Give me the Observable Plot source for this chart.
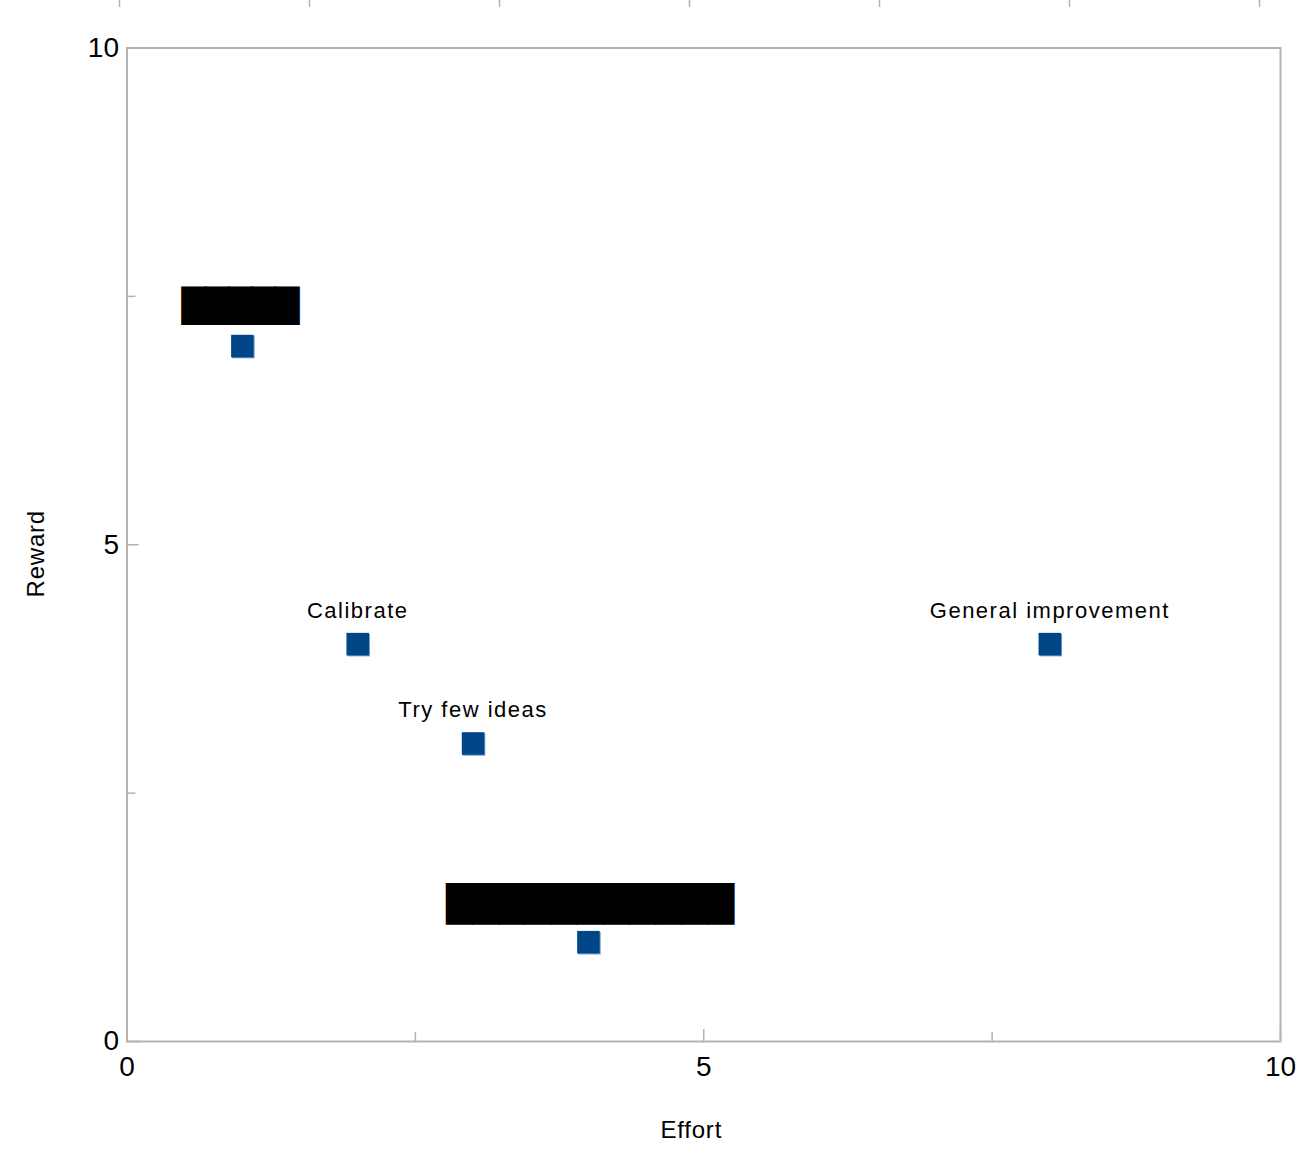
<!DOCTYPE html>
<html><head><meta charset="utf-8">
<script src="https://cdn.jsdelivr.net/npm/d3@7"></script>
<script src="https://cdn.jsdelivr.net/npm/@observablehq/plot@0.6"></script>
<style>
  body { margin: 0; background: #fff; }
  #chart svg { display: block; }
  g[aria-description="point-labels"] text { letter-spacing: 1.5px; }
  g[aria-description="axis-titles"] text { letter-spacing: 0.8px; }
  g[aria-description="redacted-a"] text { letter-spacing: -1.75px; }
  g[aria-description="redacted-b"] text { letter-spacing: -0.8px; }
</style>
</head><body>
<div id="chart"></div>
<script>
// Data
const effort = [1, 2, 3, 4, 8];
const reward = [7, 4, 3, 1, 4];
const pointLabels = ["", "Calibrate", "Try few ideas", "", "General improvement"];
// labels that are blacked out in the reference
const redactedEffort = [1, 4];
const redactedReward = [7, 1];
const redactedText = ["█████", "███████████"];
// ticks
const xTickLabels = [0, 5, 10];
const yTickLabels = [0, 5, 10];
const majorTicks = [0, 5, 10];
const minorTicks = [2.5, 7.5];
const strayTopTicks = [0, 1, 2, 3, 4, 5, 6];
const xTitle = "Effort";
const yTitle = "Reward";

const points = effort.map((e, i) => ({effort: e, reward: reward[i], label: pointLabels[i]}));
const redacted = redactedEffort.map((e, i) => ({effort: e, reward: redactedReward[i], text: redactedText[i]}));

const gray = "#b3b3b3";
const W = 1316, H = 1163;
const mt = 40.5, mb = 129, ml = 126.5, mr = 36;
const innerH = H - mt - mb, innerW = W - ml - mr;

// stray tick marks at the very top of the picture
const topStrip = Plot.plot({
  width: W, height: 7,
  marginTop: 0, marginBottom: 0, marginLeft: 119, marginRight: 57,
  x: {domain: [0, 6], axis: null},
  y: {axis: null},
  style: {background: "white"},
  marks: [Plot.ruleX(strayTopTicks, {x: d => d, stroke: gray, strokeWidth: 1.5})]
});

const mainChart = Plot.plot({
  width: W, height: H,
  marginTop: mt, marginBottom: mb, marginLeft: ml, marginRight: mr,
  x: {domain: [0, 10]},
  y: {domain: [0, 10]},
  style: {fontFamily: "'Liberation Sans', Arial, sans-serif", background: "white", color: "black"},
  marks: [
    Plot.frame({stroke: gray, strokeWidth: 2}),
    // inward tick marks
    Plot.ruleX(majorTicks, {x: d => d, stroke: gray, strokeWidth: 1.5, insetTop: innerH - 12}),
    Plot.ruleX(minorTicks, {x: d => d, stroke: gray, strokeWidth: 1.5, insetTop: innerH - 9}),
    Plot.ruleY(majorTicks, {y: d => d, stroke: gray, strokeWidth: 1.5, insetRight: innerW - 12}),
    Plot.ruleY(minorTicks, {y: d => d, stroke: gray, strokeWidth: 1.5, insetRight: innerW - 9}),
    Plot.axisX({ticks: xTickLabels, tickSize: 0, tickPadding: 15, fontSize: 28, label: null}),
    Plot.axisY({ticks: yTickLabels, tickSize: 0, tickPadding: 8, fontSize: 28, label: null}),
    Plot.text([xTitle], {frameAnchor: "bottom", text: d => d, textAnchor: "middle", lineAnchor: "middle", dx: -12.5, dy: 89, fontSize: 24, ariaDescription: "axis-titles"}),
    Plot.text([yTitle], {frameAnchor: "left", text: d => d, textAnchor: "middle", lineAnchor: "middle", rotate: -90, dx: -90.5, dy: 9, fontSize: 24, ariaDescription: "axis-titles"}),
    // points (light edge + square)
    Plot.dot(points, {x: "effort", y: "reward", symbol: "square", r: 12.7, fill: "#6a98d2", dx: 1, dy: 1}),
    Plot.dot(points, {x: "effort", y: "reward", symbol: "square", r: 12.7, fill: "#004586"}),
    Plot.text(points.filter(d => d.label), {x: "effort", y: "reward", text: "label", dy: -33.5, fontSize: 22, fill: "black", ariaDescription: "point-labels"}),
    // redacted labels
    Plot.text(redacted.slice(0, 1), {x: "effort", y: "reward", text: "text", dx: -3, dy: -39, fontSize: 32.5, fontFamily: "DejaVu Sans", fill: "black", ariaDescription: "redacted-a"}),
    Plot.text(redacted.slice(1), {x: "effort", y: "reward", text: "text", dx: 1.5, dy: -37.5, fontSize: 35, fontFamily: "DejaVu Sans", fill: "black", ariaDescription: "redacted-b"})
  ]
});

document.getElementById("chart").append(topStrip, mainChart);
</script>
</body></html>
